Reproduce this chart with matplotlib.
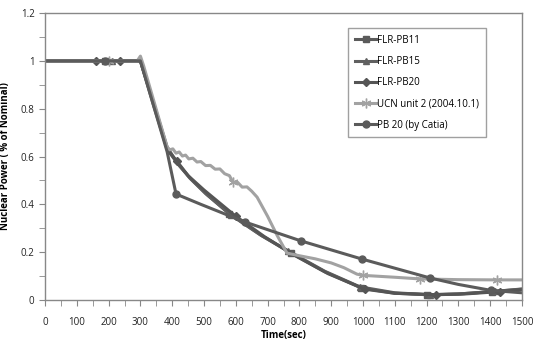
import numpy as np
import matplotlib
matplotlib.use('Agg')
from matplotlib import pyplot as plt
from matplotlib.ticker import MultipleLocator

plt.rcParams['font.family'] = ['Open Sans', 'DejaVu Sans']

# FLR-PB11 (square markers)
t_pb11 = [0, 190, 300, 340, 384, 420, 460, 510, 580, 680, 775, 880, 995, 1100, 1200, 1300, 1405, 1500]
p_pb11 = [1.0, 1.0, 1.0, 0.82, 0.63, 0.565, 0.505, 0.44, 0.36, 0.27, 0.195, 0.118, 0.05, 0.028, 0.022, 0.025, 0.035, 0.045]
mk_pb11 = [1, 8, 10, 12, 14, 16]

# FLR-PB15 (triangle markers)
t_pb15 = [0, 210, 300, 340, 384, 415, 455, 505, 585, 680, 765, 880, 990, 1100, 1210, 1300, 1415, 1500]
p_pb15 = [1.0, 1.0, 1.0, 0.83, 0.64, 0.575, 0.51, 0.445, 0.355, 0.27, 0.205, 0.12, 0.055, 0.03, 0.022, 0.025, 0.036, 0.046]
mk_pb15 = [1, 8, 10, 12, 14, 16]

# FLR-PB20 (diamond markers)
t_pb20 = [0, 160, 236, 300, 340, 384, 415, 450, 500, 600, 690, 780, 890, 1006, 1100, 1230, 1320, 1430, 1500]
p_pb20 = [1.0, 1.0, 1.0, 1.0, 0.83, 0.63, 0.58, 0.52, 0.46, 0.35, 0.265, 0.19, 0.11, 0.045, 0.028, 0.022, 0.025, 0.035, 0.043]
mk_pb20 = [1, 2, 6, 9, 13, 15, 17]

# UCN unit 2 (2004.10.1) (asterisk markers)
t_ucn = [0, 200, 290, 300, 310, 384, 392, 402, 412, 422, 432, 442, 452, 465, 478, 490, 505, 520, 535,
         550, 565, 580, 591, 605, 620, 635, 650, 667, 700, 730, 761, 800, 850, 900, 940, 981, 1000,
         1100, 1180, 1300, 1421, 1500]
p_ucn = [1.0, 1.0, 1.0, 1.02, 0.98, 0.64, 0.628, 0.632, 0.614, 0.619, 0.602, 0.606, 0.59, 0.593, 0.577,
         0.579, 0.562, 0.563, 0.547, 0.548, 0.528, 0.52, 0.492, 0.493, 0.472, 0.473, 0.455, 0.43, 0.35, 0.27,
         0.196, 0.185, 0.172, 0.155, 0.135, 0.108, 0.103, 0.095, 0.088, 0.085, 0.084, 0.084]
mk_ucn = [1, 22, 36, 38, 40]

# PB 20 (by Catia) (circle markers)
t_cat = [0, 190, 300, 384, 412, 490, 629, 805, 997, 1211, 1300, 1403, 1500]
p_cat = [1.0, 1.0, 1.0, 0.62, 0.443, 0.40, 0.326, 0.247, 0.171, 0.092, 0.065, 0.04, 0.03]
mk_cat = [1, 4, 6, 7, 8, 9, 11]

dark = '#5b5b5b'
light = '#a2a2a2'

fig = plt.figure(figsize=(5.34, 3.44), dpi=100)
ax = fig.add_axes([0.0843, 0.128, 0.8932, 0.834])

lw = 2.2
ax.plot(t_pb11, p_pb11, color=dark, lw=lw, marker='s', ms=5, markevery=mk_pb11, label='FLR-PB11')
ax.plot(t_pb15, p_pb15, color='#606060', lw=lw, marker='^', ms=5, markevery=mk_pb15, label='FLR-PB15')
ax.plot(t_pb20, p_pb20, color='#555555', lw=lw, marker='D', ms=4, markevery=mk_pb20, label='FLR-PB20')
ax.plot(t_ucn, p_ucn, color=light, lw=lw, marker=(6, 2, 0), ms=7, mew=1, markevery=mk_ucn,
        label='UCN unit 2 (2004.10.1)')
ax.plot(t_cat, p_cat, color=dark, lw=lw, marker='o', ms=5, markevery=mk_cat, label='PB 20 (by Catia)')

ax.set_xlim(0, 1500)
ax.set_ylim(0, 1.2)
ax.xaxis.set_major_locator(MultipleLocator(100))
ax.xaxis.set_minor_locator(MultipleLocator(50))
ax.yaxis.set_minor_locator(MultipleLocator(0.1))
ax.set_yticks([0, 0.2, 0.4, 0.6, 0.8, 1.0, 1.2])
ax.set_yticklabels(['0', '0.2', '0.4', '0.6', '0.8', '1', '1.2'])

for s in ax.spines.values():
    s.set_color('#888888')
    s.set_linewidth(1)
ax.tick_params(which='both', direction='out', length=4, color='#888888', labelsize=7, labelcolor='#222222')
ax.tick_params(axis='x', pad=8)

ax.set_xlabel('Time(sec)', fontsize=7, fontweight='bold')
ax.set_ylabel('Nuclear Power ( % of Nominal)', fontsize=7, fontweight='bold')
ax.xaxis.set_label_coords(0.5, -0.105)
ax.yaxis.set_label_coords(-0.072, 0.5)

leg = ax.legend(loc='upper right', bbox_to_anchor=(0.935, 0.965), fontsize=7, frameon=True,
                fancybox=False, edgecolor='#888888', labelspacing=1.05, handlelength=2.2,
                handletextpad=0.1, borderpad=0.7)
leg.get_frame().set_linewidth(1)

fig.savefig('out.png', dpi=100)
